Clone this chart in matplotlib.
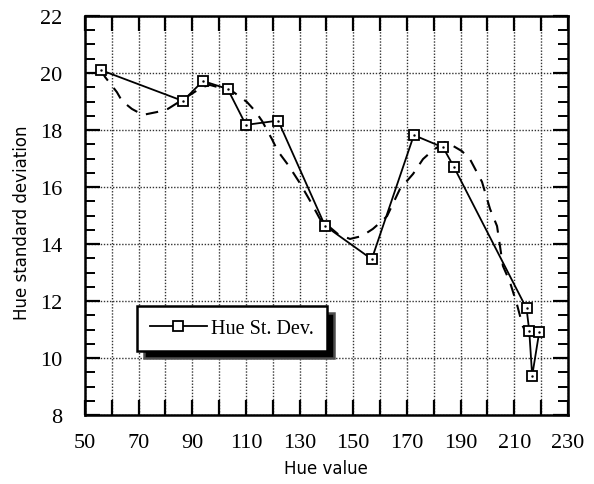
import numpy as np
import matplotlib
matplotlib.use("Agg")
import matplotlib.pyplot as plt
from matplotlib.ticker import MultipleLocator

# measured hue st. dev. (solid line with squares)
hue = [56.0, 86.5, 94.0, 103.2, 110.0, 122.0, 139.5, 156.9, 172.6, 183.5,
       187.6, 214.6, 215.6, 216.7, 219.3]
std_dev = [20.10, 19.02, 19.72, 19.44, 18.18, 18.33, 14.64, 13.47, 17.82, 17.39,
           16.69, 11.74, 10.96, 9.38, 10.90]

# smoothed trend (dashed line)
fit_hue = [56.0, 57.5, 61.9, 63.8, 67.5, 71.6, 76.8, 80.9, 87.0, 93.6, 96.6,
           104.8, 110.4, 113.4, 116.0, 119.7, 121.9, 126.0, 130.1, 134.2, 137.6,
           144.3, 148.8, 153.2, 157.3, 160.7, 162.6, 167.4, 172.3, 176.0, 179.3,
           184.2, 186.0, 190.5, 193.5, 198.0, 201.0, 203.6, 205.8, 208.4, 211.0,
           213.2, 214.7, 217.5]
fit_std = [20.10, 19.86, 19.33, 19.02, 18.74, 18.53, 18.63, 18.74, 19.10, 19.50,
           19.58, 19.37, 18.98, 18.67, 18.32, 17.68, 17.26, 16.74, 16.14, 15.47,
           14.88, 14.35, 14.18, 14.28, 14.53, 14.81, 14.98, 15.93, 16.46, 16.98,
           17.26, 17.58, 17.51, 17.26, 16.98, 16.18, 15.23, 14.63, 13.23, 12.67,
           11.89, 11.12, 10.84, 10.60]

x_ticks = np.arange(50, 231, 20)
y_ticks = np.arange(8, 23, 2)

serif = "Liberation Serif"


def main():
    fig = plt.figure(figsize=(5.94, 4.85), dpi=100)
    ax = fig.add_axes([0.143, 0.142, 0.813, 0.823])

    ax.plot(fit_hue, fit_std, color="black", lw=1.5, ls=(0, (6, 4.5)), zorder=3)
    ax.plot(hue, std_dev, color="black", lw=1.3, marker="s", ms=7,
            mfc="white", mec="black", mew=1.3, zorder=4, label="Hue St. Dev.")
    ax.plot(hue, std_dev, ls="none", marker=".", ms=1.5, color="black", zorder=5)

    ax.set_xlim(50, 230)
    ax.set_ylim(8, 22)
    ax.yaxis.set_minor_locator(MultipleLocator(0.5))
    ax.set_xticks(np.arange(50, 231, 10))
    ax.set_xticklabels([str(v) if v in x_ticks else "" for v in range(50, 231, 10)])
    ax.set_yticks(y_ticks)

    ax.grid(True, which="major", color="0.2", ls=(0, (1, 1.2)), lw=1.0)
    ax.set_axisbelow(True)

    ax.tick_params(which="major", direction="in", length=11, width=1.6,
                   top=True, right=True, labelsize=16)
    ax.tick_params(axis="y", which="major", pad=16)
    ax.tick_params(axis="x", which="major", pad=13)
    ax.tick_params(which="minor", direction="in", length=7, width=1.4,
                   left=True, right=True)
    ax.tick_params(axis="x", which="minor", bottom=False, top=False)
    for lab in ax.get_xticklabels() + ax.get_yticklabels():
        lab.set_fontfamily(serif)
    for sp in ax.spines.values():
        sp.set_linewidth(1.8)

    ax.set_xlabel("Hue value", fontsize=12, labelpad=5)
    ax.set_ylabel("Hue standard deviation", fontsize=12)
    ax.yaxis.set_label_coords(-0.112, 0.485)

    leg = ax.legend(loc="lower left", bbox_to_anchor=(0.108, 0.16),
                    borderaxespad=0, fancybox=False, handlelength=2.8,
                    handletextpad=0.2, borderpad=0.65,
                    prop={"family": serif, "size": 14.5},
                    shadow={"ox": 5, "oy": -5, "facecolor": "black", "alpha": 1})
    leg.get_frame().set_edgecolor("black")
    leg.get_frame().set_linewidth(1.8)
    leg.set_zorder(10)

    fig.savefig("out.png", dpi=100)


if __name__ == "__main__":
    main()
